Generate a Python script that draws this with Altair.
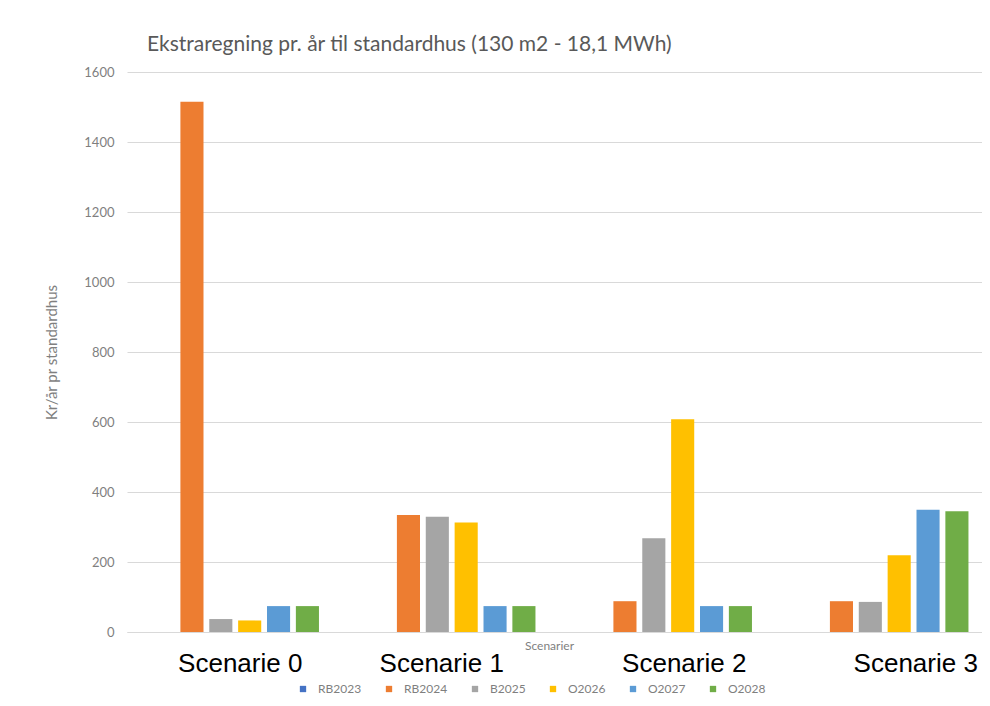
import altair as alt
import pandas as pd

scenarios = ["Scenarie 0", "Scenarie 1", "Scenarie 2", "Scenarie 3"]
series = ["RB2023", "RB2024", "B2025", "O2026", "O2027", "O2028"]
colors = ["#4472C4", "#ED7D31", "#A5A5A5", "#FFC000", "#5B9BD5", "#70AD47"]

RB2023 = [0, 0, 0, 0]
RB2024 = [1515, 334, 88, 88]
B2025 = [37, 329, 268, 86]
O2026 = [33, 313, 608, 219]
O2027 = [74, 74, 74, 349]
O2028 = [74, 74, 74, 345]

values = {"RB2023": RB2023, "RB2024": RB2024, "B2025": B2025,
          "O2026": O2026, "O2027": O2027, "O2028": O2028}

rows = []
for s in series:
    for sc, v in zip(scenarios, values[s]):
        rows.append({"Scenarie": sc, "Serie": s, "Verdi": v})
df = pd.DataFrame(rows)

label_offset = {
    "condition": [
        {"test": "datum.value === 'Scenarie 0'", "value": 5},
        {"test": "datum.value === 'Scenarie 1'", "value": -10},
        {"test": "datum.value === 'Scenarie 2'", "value": 16},
        {"test": "datum.value === 'Scenarie 3'", "value": 31},
    ],
    "value": 0,
}

chart = alt.Chart(df).mark_bar().encode(
    x=alt.X("Scenarie:N", sort=scenarios,
            scale=alt.Scale(paddingInner=0.2, paddingOuter=0.1, range=[0, 866]),
            axis=alt.Axis(title="Scenarier", labelAngle=0, ticks=False,
                          labelFont="Liberation Sans", labelFontSize=26,
                          labelColor="#000000", labelPadding=18,
                          labelBaseline="top", labelOffset=label_offset,
                          domainColor="#d9d9d9", titleFont="Lato",
                          titleFontSize=12, titleFontWeight="normal",
                          titleColor="#7f7f7f", titleY=8,
                          titleBaseline="top", titleX=422)),
    xOffset=alt.XOffset("Serie:N", sort=series,
                        scale=alt.Scale(paddingInner=0.2, paddingOuter=0.1)),
    y=alt.Y("Verdi:Q", scale=alt.Scale(domain=[0, 1600]),
            axis=alt.Axis(title="Kr/år pr standardhus", values=list(range(0, 1601, 200)),
                          format="d", ticks=False, domain=False, gridColor="#d9d9d9",
                          labelFont="Lato", labelFontSize=13, labelColor="#7f7f7f",
                          labelPadding=13, titleFont="Lato", titleFontSize=15,
                          titleFontWeight="normal", titleColor="#7f7f7f",
                          titlePadding=24)),
    color=alt.Color("Serie:N", sort=series,
                    scale=alt.Scale(domain=series, range=colors),
                    legend=alt.Legend(title=None, orient="none", direction="horizontal",
                                      legendX=170, legendY=611, symbolType="square",
                                      symbolSize=40, symbolStrokeWidth=0,
                                      labelFont="Lato", labelFontSize=12,
                                      labelColor="#7f7f7f", labelOffset=9,
                                      columnPadding=21)),
).properties(
    width=855,
    height=560,
    title=alt.Title("Ekstraregning pr. år til standardhus (130 m2 - 18,1 MWh)",
                    anchor="start", frame="group", font="Lato", fontSize=21,
                    fontWeight="normal", color="#595959", dx=20, offset=11),
    autosize=alt.AutoSizeParams(type="none"),
    padding={"left": 119, "top": 64, "right": 0, "bottom": 66},
).configure_view(stroke=None)

chart.save("out.html", embed_options={"renderer": "svg", "actions": False})
